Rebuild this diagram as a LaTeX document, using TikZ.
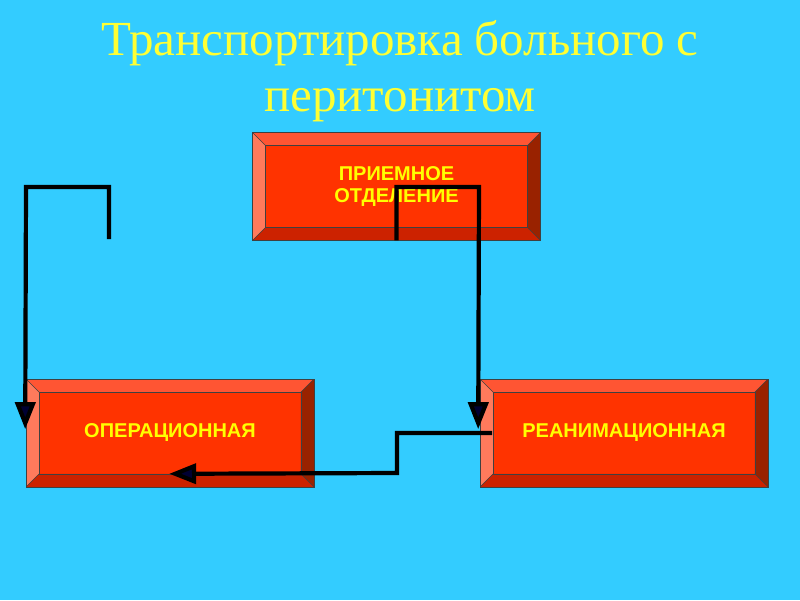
\documentclass[tikz,border=0pt]{standalone}
\usepackage{fontspec}
\setmainfont{Liberation Serif}
\newfontfamily\arialfont{Liberation Sans}
\usetikzlibrary{arrows.meta,calc}
\definecolor{bgblue}{HTML}{33CCFF}
\definecolor{facered}{HTML}{FF3300}
\definecolor{bevtop}{HTML}{FF5533}
\definecolor{bevleft}{HTML}{FF7A5C}
\definecolor{bevbot}{HTML}{CC2200}
\definecolor{bevright}{HTML}{992200}
\definecolor{titleyellow}{HTML}{FFFF33}
\definecolor{textyellow}{HTML}{FFFF00}
\tikzset{
  bevbox/.style={rectangle, inner sep=0pt, minimum width=287pt, minimum height=107pt,
    fill=facered, draw=black!75, line width=0.6pt},
  boxtext/.style={font=\arialfont\bfseries\fontsize{20}{22.5}\selectfont, text=textyellow, align=center},
  bevedge/.style={draw=black!75, line width=0.5pt},
  conn/.style={draw=black, line width=4.2pt, line join=miter},
  tip/.style={-{Triangle[length=27pt,width=20pt,fill=black!80!blue]}},
  titletext/.style={font=\fontsize{49}{57}\selectfont, text=titleyellow, anchor=base}
}
\newcommand{\bevels}[1]{%
  \fill[bevtop]  (#1.north west) -- (#1.north east) -- ($(#1.north east)+(-13,13)$) -- ($(#1.north west)+(13,13)$) -- cycle;
  \fill[bevleft] (#1.north west) -- ($(#1.north west)+(13,13)$) -- ($(#1.south west)+(13,-13)$) -- (#1.south west) -- cycle;
  \fill[bevbot]  (#1.south west) -- ($(#1.south west)+(13,-13)$) -- ($(#1.south east)+(-13,-13)$) -- (#1.south east) -- cycle;
  \fill[bevright] (#1.north east) -- (#1.south east) -- ($(#1.south east)+(-13,-13)$) -- ($(#1.north east)+(-13,13)$) -- cycle;
  \draw[bevedge] ($(#1.north west)+(13,13)$) rectangle ($(#1.south east)+(-13,-13)$);
  \draw[bevedge] (#1.north west) -- ($(#1.north west)+(13,13)$);
  \draw[bevedge] (#1.north east) -- ($(#1.north east)+(-13,13)$);
  \draw[bevedge] (#1.south west) -- ($(#1.south west)+(13,-13)$);
  \draw[bevedge] (#1.south east) -- ($(#1.south east)+(-13,-13)$);
  \draw[draw=black!75, line width=0.6pt] (#1.north west) rectangle (#1.south east);
}
\begin{document}
\begin{tikzpicture}[x=1pt,y=-1pt]
\fill[bgblue] (0,0) rectangle (800,600);
\useasboundingbox (0,0) rectangle (800,600);

\node[titletext] (title1) at (400,55) {Транспортировка больного с};
\node[titletext] (title2) at (400,111) {перитонитом};

% boxes
\node[bevbox] (rec) at (396.5,186.5) {};
\bevels{rec}
\node[boxtext] (rect) at (rec.center) {ПРИЕМНОЕ\\ОТДЕЛЕНИЕ};

\node[bevbox] (op) at (170,433) {};
\bevels{op}
\node[boxtext] (opt) at (op.center) {ОПЕРАЦИОННАЯ};

\node[bevbox] (rean) at (624,433) {};
\bevels{rean}
\node[boxtext] (reant) at (rean.center) {РЕАНИМАЦИОННАЯ};

% connectors
\coordinate (lstart) at (109,239);
\coordinate (ltop) at (26,187);
\coordinate (ltip) at ($(op.north west)+(-1,50)$);
\draw[conn,tip] (lstart) |- (ltop) -- (ltip);

\coordinate (rtop) at (479,187);
\coordinate (rtip) at ($(rean.north west)+(-2,50)$);
\draw[conn,tip] (rec.south) |- (rtop) -- (rtip);

\coordinate (bstart) at ($(rean.west)+(12,0)$);
\coordinate (bmid1) at (397,433);
\coordinate (bmid2) at (397,473);
\coordinate (btip) at ($(op.south west)+(143,-13)$);
\draw[conn,tip] (bstart) -- (bmid1) -- (bmid2) -- (btip);
\end{tikzpicture}
\end{document}
